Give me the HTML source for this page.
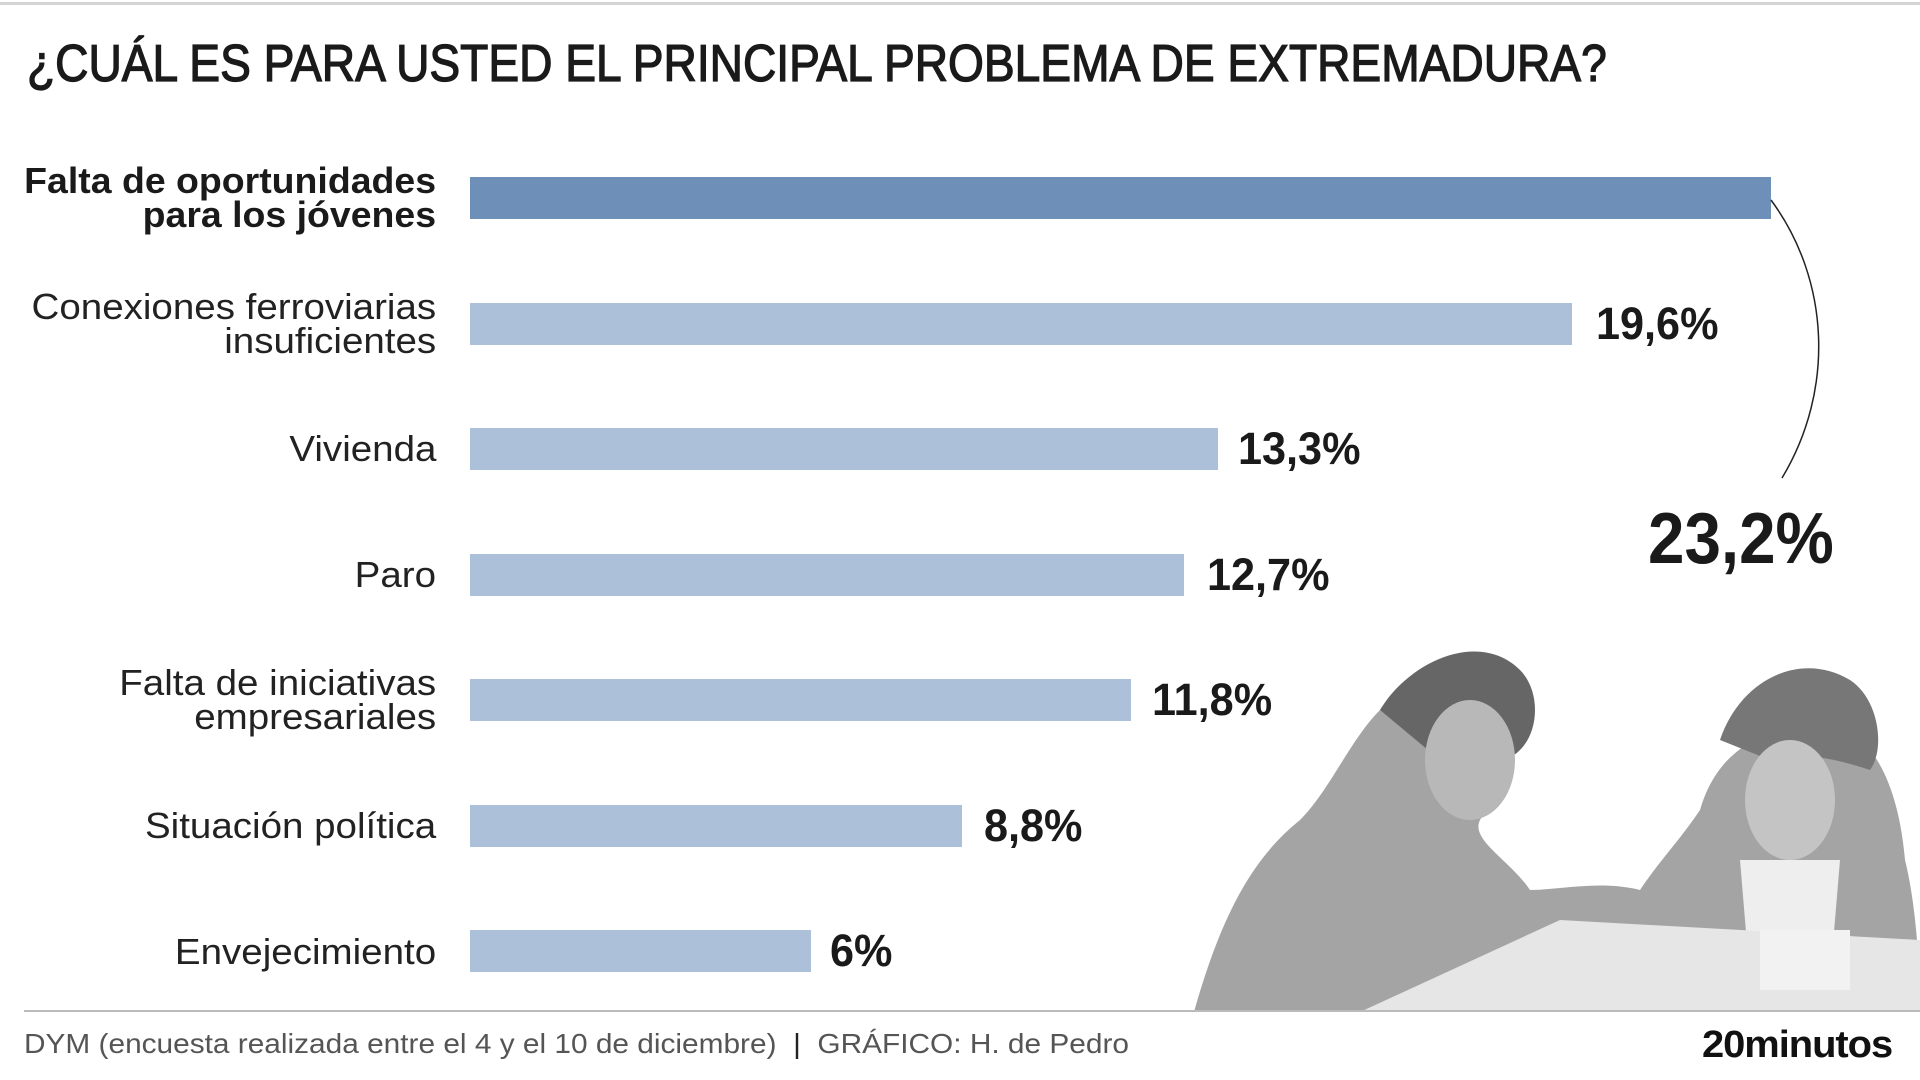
<!DOCTYPE html>
<html><head><meta charset="utf-8"><style>
html,body{margin:0;padding:0;background:#fff;}
body{width:1920px;height:1080px;position:relative;overflow:hidden;font-family:"Liberation Sans",sans-serif;color:#1a1a1a;}
.abs{position:absolute;}
.title{left:27px;top:34px;font-size:52px;white-space:nowrap;transform-origin:0 0;transform:scaleX(0.887);-webkit-text-stroke:1.3px #1a1a1a;}
.lbl{position:absolute;right:1484px;font-size:36px;line-height:34px;text-align:right;white-space:nowrap;transform-origin:100% 50%;transform:scaleX(1.07);color:#222;}
.bar{position:absolute;left:470px;height:42px;background:#adc0d9;}
.val{position:absolute;font-size:45px;font-weight:bold;white-space:nowrap;transform-origin:0 50%;transform:scaleX(0.96);color:#1a1a1a;}
</style></head><body>
<div class="abs" style="left:0;top:2px;width:1920px;height:3px;background:#d4d4d4"></div>
<div class="abs title">¿CUÁL ES PARA USTED EL PRINCIPAL PROBLEMA DE EXTREMADURA?</div>

<svg class="abs" style="left:1180px;top:560px" width="740" height="452" viewBox="0 0 740 452">
  <path d="M14 452 C40 360 70 300 120 260 C150 230 170 180 200 150 C230 120 290 110 300 140 C320 180 320 230 300 260 C290 280 330 300 350 330 C380 330 420 320 460 330 C480 300 500 280 520 250 C540 180 600 160 660 170 C700 180 720 240 725 300 C735 340 740 400 740 452 Z" fill="#a4a4a4"/>
  <path d="M200 150 C230 100 300 70 340 110 C360 130 360 170 340 190 C320 210 280 210 260 200 Z" fill="#666"/>
  <path d="M540 180 C560 120 620 90 670 120 C700 140 705 190 690 210 C660 200 620 190 590 200 Z" fill="#777"/>
  <ellipse cx="290" cy="200" rx="45" ry="60" fill="#b8b8b8"/>
  <ellipse cx="610" cy="240" rx="45" ry="60" fill="#c4c4c4"/>
  <path d="M560 300 L660 300 L650 420 L570 420 Z" fill="#eee"/>
  <path d="M180 452 L380 360 L740 380 L740 452 Z" fill="#e6e6e6"/>
  <rect x="580" y="370" width="90" height="60" fill="#f2f2f2"/>
</svg>

<div class="lbl" style="top:164px;font-weight:bold;color:#1a1a1a;transform:scaleX(1.04)">Falta de oportunidades<br>para los jóvenes</div>
<div class="bar" style="top:177px;width:1301px;background:#6e90b8"></div>

<div class="lbl" style="top:290px">Conexiones ferroviarias<br>insuficientes</div>
<div class="bar" style="top:303px;width:1102px"></div>
<div class="val" style="left:1596px;top:298px">19,6%</div>

<div class="lbl" style="top:432px">Vivienda</div>
<div class="bar" style="top:428px;width:748px"></div>
<div class="val" style="left:1238px;top:423px">13,3%</div>

<div class="lbl" style="top:558px">Paro</div>
<div class="bar" style="top:554px;width:714px"></div>
<div class="val" style="left:1207px;top:549px">12,7%</div>

<div class="lbl" style="top:666px">Falta de iniciativas<br>empresariales</div>
<div class="bar" style="top:679px;width:661px"></div>
<div class="val" style="left:1152px;top:674px">11,8%</div>

<div class="lbl" style="top:809px">Situación política</div>
<div class="bar" style="top:805px;width:492px"></div>
<div class="val" style="left:984px;top:800px">8,8%</div>

<div class="lbl" style="top:935px">Envejecimiento</div>
<div class="bar" style="top:930px;width:341px"></div>
<div class="val" style="left:830px;top:925px">6%</div>

<svg class="abs" style="left:0;top:0" width="1920" height="1080">
  <path d="M1771 200 C1830 280 1835 390 1782 478" stroke="#222" stroke-width="1.5" fill="none"/>
  <rect x="24" y="1010" width="1896" height="2" fill="#bbb"/>
</svg>
<div class="val" style="left:1648px;top:498px;font-size:72px;transform:scaleX(0.91)">23,2%</div>

<div class="abs" style="left:24px;top:1028px;font-size:28px;color:#555;white-space:nowrap;transform-origin:0 0;transform:scaleX(1.065)">DYM (encuesta realizada entre el 4 y el 10 de diciembre) &nbsp;<span style="color:#222">|</span>&nbsp; GRÁFICO: H. de Pedro</div>
<div class="abs" style="left:1702px;top:1024px;font-size:38px;font-weight:bold;color:#111;white-space:nowrap;letter-spacing:-1px;transform-origin:0 0;transform:scaleX(1.05)">20minutos</div>
</body></html>
